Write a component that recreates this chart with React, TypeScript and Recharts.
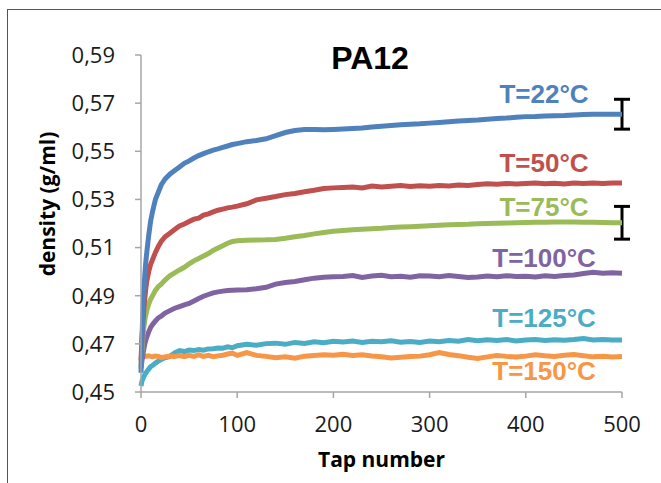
import React from 'react';
import { LineChart, Line, XAxis, YAxis, ErrorBar, ReferenceDot } from 'recharts';

const taps = [0, 1, 2, 3, 4, 5, 6, 8, 10, 12, 15, 18, 21, 25, 30, 35, 40, 45, 50, 55, 60, 65, 70, 75, 80, 85, 90, 95, 100, 110, 120, 130, 140, 150, 160, 170, 180, 190, 200, 210, 220, 230, 240, 250, 260, 270, 280, 290, 300, 310, 320, 330, 340, 350, 360, 370, 380, 390, 400, 410, 420, 430, 440, 450, 460, 470, 480, 490, 500];

const dens22 = [0.458, 0.472, 0.484, 0.492, 0.499, 0.504, 0.508, 0.515, 0.521, 0.525, 0.53, 0.533, 0.536, 0.5385, 0.5405, 0.542, 0.5435, 0.545, 0.546, 0.5472, 0.5482, 0.549, 0.5498, 0.5505, 0.551, 0.5516, 0.5522, 0.5528, 0.5532, 0.554, 0.5545, 0.5552, 0.5565, 0.5578, 0.5586, 0.559, 0.559, 0.5589, 0.5591, 0.5593, 0.5595, 0.5597, 0.5601, 0.5604, 0.5607, 0.561, 0.5612, 0.5614, 0.5617, 0.562, 0.5623, 0.5626, 0.5628, 0.563, 0.5633, 0.5636, 0.5638, 0.5641, 0.5644, 0.5645, 0.5647, 0.5648, 0.5649, 0.5651, 0.5653, 0.5654, 0.5654, 0.5654, 0.5654];

const dens50 = [0.463, 0.472, 0.479, 0.485, 0.489, 0.493, 0.496, 0.5, 0.503, 0.505, 0.508, 0.5105, 0.5125, 0.5145, 0.516, 0.5175, 0.519, 0.5198, 0.5208, 0.5218, 0.5222, 0.5235, 0.524, 0.5248, 0.5255, 0.526, 0.5265, 0.5268, 0.5272, 0.5282, 0.5298, 0.5305, 0.5312, 0.532, 0.5325, 0.5332, 0.5338, 0.5345, 0.5348, 0.535, 0.5352, 0.5348, 0.5356, 0.5352, 0.5355, 0.5358, 0.5354, 0.5357, 0.5355, 0.5358, 0.5356, 0.536, 0.5358, 0.5362, 0.5365, 0.5363, 0.5366, 0.5364, 0.5366, 0.5368, 0.5365, 0.5367, 0.5364, 0.5368, 0.5366, 0.5368, 0.5366, 0.5368, 0.5368];

const dens75 = [0.461, 0.467, 0.473, 0.477, 0.48, 0.482, 0.4838, 0.4865, 0.4885, 0.49, 0.4922, 0.4938, 0.4948, 0.4965, 0.4983, 0.4995, 0.5007, 0.5018, 0.5032, 0.5045, 0.5055, 0.5065, 0.5075, 0.5088, 0.5098, 0.5108, 0.5118, 0.5125, 0.5128, 0.513, 0.5131, 0.5132, 0.5134, 0.5139, 0.5145, 0.515, 0.5157, 0.5163, 0.5168, 0.5171, 0.5174, 0.5176, 0.5178, 0.518, 0.5183, 0.5185, 0.5187, 0.5189, 0.5191, 0.5193, 0.5195, 0.5196, 0.5197, 0.5199, 0.52, 0.5201, 0.5202, 0.5203, 0.5204, 0.5205, 0.5205, 0.5206, 0.5206, 0.5206, 0.5205, 0.5205, 0.5204, 0.5203, 0.5203];

const dens100 = [0.46, 0.463, 0.4655, 0.468, 0.47, 0.4715, 0.4728, 0.475, 0.4768, 0.478, 0.4795, 0.4808, 0.4815, 0.4828, 0.4838, 0.4848, 0.4855, 0.4862, 0.4868, 0.4878, 0.4888, 0.4898, 0.4905, 0.4912, 0.4916, 0.4919, 0.4922, 0.4923, 0.4924, 0.4925, 0.4929, 0.4935, 0.4948, 0.4955, 0.4959, 0.4966, 0.4973, 0.4977, 0.4979, 0.498, 0.4984, 0.4976, 0.4982, 0.4985, 0.4979, 0.4981, 0.4977, 0.4983, 0.4982, 0.4979, 0.4984, 0.498, 0.4976, 0.4978, 0.4982, 0.4979, 0.4983, 0.498, 0.4981, 0.4978, 0.4983, 0.498, 0.4984, 0.4986, 0.4992, 0.4997, 0.4993, 0.4995, 0.4993];

const dens125 = [0.4525, 0.4545, 0.4555, 0.4565, 0.4572, 0.4578, 0.4585, 0.4595, 0.4605, 0.461, 0.462, 0.4628, 0.4635, 0.4642, 0.4648, 0.4662, 0.4672, 0.4668, 0.4674, 0.4672, 0.4676, 0.4674, 0.4679, 0.468, 0.4683, 0.4682, 0.4688, 0.4684, 0.4692, 0.4698, 0.4694, 0.4701, 0.4703, 0.4698, 0.4706, 0.4702, 0.4709, 0.4705, 0.4711, 0.4708, 0.4712, 0.4706, 0.4711, 0.4709, 0.4713, 0.4707, 0.471, 0.4706, 0.4712, 0.4709, 0.4714, 0.4711, 0.4718, 0.4713, 0.4717, 0.4714, 0.4718, 0.4712, 0.4716, 0.4718, 0.4714, 0.4717, 0.4715, 0.4718, 0.4722, 0.4716, 0.4718, 0.4716, 0.4716];

const dens150 = [0.4648, 0.4649, 0.4648, 0.465, 0.4649, 0.4648, 0.4649, 0.465, 0.4648, 0.4647, 0.4649, 0.4648, 0.4643, 0.4646, 0.4649, 0.4648, 0.4651, 0.4647, 0.4652, 0.4648, 0.4654, 0.4648, 0.4652, 0.4647, 0.465, 0.4653, 0.4658, 0.4662, 0.4652, 0.4664, 0.4652, 0.4648, 0.4642, 0.4646, 0.464, 0.4649, 0.4652, 0.4655, 0.4653, 0.4657, 0.4652, 0.4655, 0.465, 0.4646, 0.4641, 0.4644, 0.4647, 0.4649, 0.4655, 0.4664, 0.4656, 0.4651, 0.4644, 0.4639, 0.4646, 0.4652, 0.4648, 0.4645, 0.4649, 0.4655, 0.4651, 0.4648, 0.4653, 0.4656, 0.4651, 0.4646, 0.4648, 0.4645, 0.4647];

// error bars at the final tap (500)
const errorTap = 500;
const err22 = 0.0062;
const err75 = 0.0068;

const xTicks = [0, 100, 200, 300, 400, 500];
const yTicks = [0.45, 0.47, 0.49, 0.51, 0.53, 0.55, 0.57, 0.59];

const seriesNames = ['T=22°C', 'T=50°C', 'T=75°C', 'T=100°C', 'T=125°C', 'T=150°C'];
const labelTap = 419;
const labelDensity = [0.5701, 0.5414, 0.5231, 0.5019, 0.477, 0.455];

const colors = ['#4F81BD', '#C0504D', '#9BBB59', '#8064A2', '#4BACC6', '#F79646'];
const keys = ['d22', 'd50', 'd75', 'd100', 'd125', 'd150'];

const rows = taps.map((t, i) => ({
  t,
  d22: dens22[i],
  d50: dens50[i],
  d75: dens75[i],
  d100: dens100[i],
  d125: dens125[i],
  d150: dens150[i],
  e22: t === errorTap ? err22 : undefined,
  e75: t === errorTap ? err75 : undefined,
}));

const fmt = (v: number) => v.toFixed(2).replace('.', ',');

const tickFont = { fontFamily: 'Open Sans', fontSize: 22, fill: '#1a1a1a' };

const YLabel = () => {
  const cx = 55;
  const cy = 204;
  return (
    <text
      x={cx}
      y={cy}
      transform={`rotate(-90, ${cx}, ${cy})`}
      textAnchor="middle"
      style={{ fontFamily: 'Open Sans', fontWeight: 700, fontSize: 21, fill: '#000' }}
    >
      density (g/ml)
    </text>
  );
};

const drawOrder = [4, 5, 3, 2, 1, 0];

export default function App() {
  return (
    <div style={{ position: 'absolute', left: 0, top: 0, width: 661, height: 483, background: '#fff', overflow: 'hidden' }}>
      <div
        style={{
          position: 'absolute',
          left: 7,
          top: 9,
          width: 660,
          height: 480,
          borderTop: '1px solid #555',
          borderLeft: '1px solid #555',
        }}
      />
      <div
        style={{
          position: 'absolute',
          left: 270,
          top: 42,
          width: 200,
          textAlign: 'center',
          fontFamily: 'Liberation Sans',
          fontWeight: 700,
          fontSize: 32,
          lineHeight: '32px',
          color: '#000',
        }}
      >
        PA12
      </div>
      <div style={{ position: 'absolute', left: 0, top: 0 }}>
        <LineChart width={661} height={483} data={rows} margin={{ top: 55, right: 39, bottom: 61, left: 81 }}>
          <XAxis
            dataKey="t"
            type="number"
            domain={[0, 500]}
            ticks={xTicks}
            tick={tickFont}
            tickSize={6}
            tickMargin={18}
            height={30}
            stroke="#a6a6a6"
            strokeWidth={1.5}
            label={{
              value: 'Tap number',
              position: 'bottom',
              offset: 30,
              style: { fontFamily: 'Open Sans', fontWeight: 700, fontSize: 21, fill: '#000' },
            }}
          />
          <YAxis
            type="number"
            domain={[0.45, 0.59]}
            ticks={yTicks}
            tickFormatter={fmt}
            tick={tickFont}
            tickSize={6}
            tickMargin={20}
            width={60}
            stroke="#a6a6a6"
            strokeWidth={1.5}
            allowDataOverflow
            label={{ content: () => <YLabel /> }}
          />
          {drawOrder.map((i) => (
            <Line
              key={keys[i]}
              dataKey={keys[i]}
              type="linear"
              stroke={colors[i]}
              strokeWidth={5}
              dot={false}
              activeDot={false}
              isAnimationActive={false}
            >
              {i === 0 && <ErrorBar dataKey="e22" width={8} strokeWidth={3} stroke="#000" direction="y" />}
              {i === 2 && <ErrorBar dataKey="e75" width={8} strokeWidth={3} stroke="#000" direction="y" />}
            </Line>
          ))}
          {seriesNames.map((name, i) => (
            <ReferenceDot
              key={name}
              x={labelTap}
              y={labelDensity[i]}
              r={0}
              ifOverflow="visible"
              shape={(p: any) => (
                <text
                  x={p.cx}
                  y={p.cy}
                  textAnchor="middle"
                  style={{ fontFamily: 'Liberation Sans', fontWeight: 700, fontSize: 26, fill: colors[i] }}
                >
                  {name}
                </text>
              )}
            />
          ))}
        </LineChart>
      </div>
    </div>
  );
}
